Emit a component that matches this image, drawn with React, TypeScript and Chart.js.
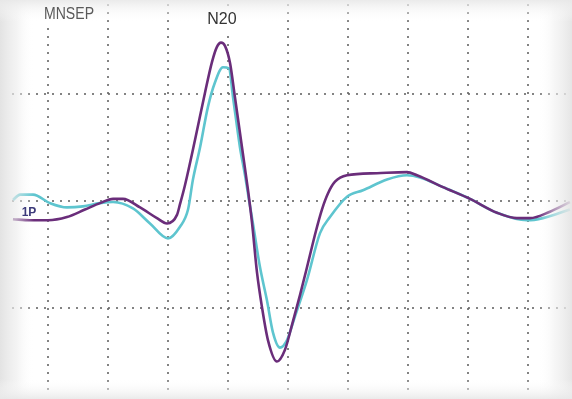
import React, { useEffect, useRef } from "react";
import { Chart, registerables } from "chart.js";

Chart.register(...registerables);

// Time (ms, 5 ms / division) and amplitude (divisions)
const purpleTime = [-2.92, -1.5, 0, 1.58, 3.08, 4.33, 5.42, 6.25, 7.67, 9.08, 9.92, 10.75, 11.0, 11.42, 12.25, 13.08, 13.67, 14.08, 14.42, 14.75, 15.17, 15.58, 16.17, 16.67, 17.0, 17.42, 17.83, 18.33, 19.08, 19.75, 20.33, 21.0, 21.67, 22.33, 22.83, 23.33, 23.92, 24.92, 27.42, 29.92, 30.75, 32.92, 35.17, 37.42, 39.08, 40.17, 41.83, 43.5];
const purpleAmp = [-0.17, -0.18, -0.18, -0.15, -0.08, -0.02, 0.02, 0.02, -0.06, -0.16, -0.21, -0.13, -0.03, 0.15, 0.57, 1.01, 1.3, 1.44, 1.48, 1.45, 1.29, 0.97, 0.5, 0.1, -0.2, -0.67, -0.99, -1.3, -1.5, -1.39, -1.16, -0.88, -0.58, -0.28, -0.08, 0.07, 0.18, 0.24, 0.26, 0.27, 0.24, 0.13, 0.02, -0.11, -0.16, -0.16, -0.1, -0.01];

const cyanTime = [-2.92, -2.33, -1.25, 0.17, 1.58, 2.92, 4.33, 5.42, 7.08, 8.5, 10.0, 11.0, 11.67, 12.08, 12.67, 13.33, 13.92, 14.58, 15.08, 15.42, 16.0, 16.42, 16.75, 17.08, 17.67, 18.25, 18.75, 19.33, 19.92, 20.58, 21.58, 22.67, 23.5, 24.92, 26.25, 28.25, 29.92, 31.0, 32.92, 35.17, 37.42, 39.92, 41.25, 43.5];
const cyanAmp = [0.01, 0.06, 0.06, -0.02, -0.06, -0.05, -0.02, -0.01, -0.07, -0.21, -0.35, -0.24, -0.08, 0.2, 0.5, 0.88, 1.11, 1.25, 1.24, 0.97, 0.5, 0.24, 0.01, -0.21, -0.62, -0.93, -1.23, -1.37, -1.3, -1.08, -0.74, -0.3, -0.15, 0.04, 0.1, 0.2, 0.24, 0.22, 0.13, 0.02, -0.11, -0.18, -0.16, -0.08];

const xGridTicks = [0, 5, 10, 15, 20, 25, 30, 35, 40];
const yGridTicks = [-1, 0, 1];

const titleLabel = "MNSEP";
const peakLabel = "N20";
const traceLabel = "1P";

const toXY = (xs: number[], ys: number[]) => xs.map((x, i) => ({ x, y: ys[i] }));

const decorPlugin = {
  id: "decor",
  beforeDraw(chart: any) {
    const { ctx, width, height } = chart;
    ctx.save();
    ctx.fillStyle = "#ffffff";
    ctx.fillRect(0, 0, width, height);
    ctx.restore();
  },
  afterDatasetsDraw(chart: any) {
    const { ctx } = chart;
    const xs = chart.scales.x;
    ctx.save();
    ctx.fillStyle = "#ffffff";
    ctx.fillRect(40, 0, 58, 27);
    const nx = xs.getPixelForValue(14.5);
    ctx.fillRect(nx - 18, 8, 36, 22);
    ctx.restore();
  },
  afterDraw(chart: any) {
    const { ctx, width, height } = chart;
    const xs = chart.scales.x;
    const ys = chart.scales.y;
    ctx.save();
    let g = ctx.createLinearGradient(0, 0, 34, 0);
    g.addColorStop(0, "rgba(226,226,226,0.97)");
    g.addColorStop(0.5, "rgba(236,236,236,0.6)");
    g.addColorStop(1, "rgba(255,255,255,0)");
    ctx.fillStyle = g;
    ctx.fillRect(0, 0, 34, height);
    g = ctx.createLinearGradient(width, 0, width - 34, 0);
    g.addColorStop(0, "rgba(228,228,228,0.95)");
    g.addColorStop(0.5, "rgba(238,238,238,0.55)");
    g.addColorStop(1, "rgba(255,255,255,0)");
    ctx.fillStyle = g;
    ctx.fillRect(width - 34, 0, 34, height);
    g = ctx.createLinearGradient(0, 0, 0, 22);
    g.addColorStop(0, "rgba(232,232,232,0.9)");
    g.addColorStop(1, "rgba(255,255,255,0)");
    ctx.fillStyle = g;
    ctx.fillRect(0, 0, width, 22);
    g = ctx.createLinearGradient(0, height, 0, height - 20);
    g.addColorStop(0, "rgba(232,232,232,0.9)");
    g.addColorStop(1, "rgba(255,255,255,0)");
    ctx.fillStyle = g;
    ctx.fillRect(0, height - 20, width, 20);

    // labels
    ctx.textBaseline = "middle";
    ctx.textAlign = "center";
    ctx.font = "16px 'Liberation Sans', Arial, sans-serif";
    ctx.save();
    ctx.translate(69, 15);
    ctx.scale(0.88, 1);
    ctx.fillStyle = "#5a5a5a";
    ctx.fillText(titleLabel, 0, 0);
    ctx.restore();
    const nx = xs.getPixelForValue(14.5);
    ctx.fillStyle = "#333333";
    ctx.fillText(peakLabel, nx, 20);
    ctx.font = "bold 12px 'Liberation Sans', Arial, sans-serif";
    ctx.fillStyle = "#3c3a7a";
    ctx.fillText(traceLabel, 29, ys.getPixelForValue(-0.11));
    ctx.restore();
  },
};

export default function App() {
  const ref = useRef<HTMLCanvasElement | null>(null);
  useEffect(() => {
    if (!ref.current) return;
    const chart = new Chart(ref.current, {
      type: "line",
      data: {
        datasets: [
          {
            label: "purple",
            data: toXY(purpleTime, purpleAmp),
            borderColor: "#6a2d7a",
            borderWidth: 2.6,
            pointRadius: 0,
            cubicInterpolationMode: "monotone",
            fill: false,
          },
          {
            label: "cyan",
            data: toXY(cyanTime, cyanAmp),
            borderColor: "#5ec5cf",
            borderWidth: 2.6,
            pointRadius: 0,
            cubicInterpolationMode: "monotone",
            fill: false,
          },
        ],
      },
      options: {
        animation: false,
        responsive: false,
        maintainAspectRatio: false,
        layout: { padding: { left: 12, right: 0, top: 4, bottom: 4 } },
        plugins: { legend: { display: false }, tooltip: { enabled: false }, title: { display: false } },
        scales: {
          x: {
            type: "linear",
            min: -3,
            max: 43.67,
            afterBuildTicks: (s: any) => {
              s.ticks = xGridTicks.map((v) => ({ value: v }));
            },
            ticks: { display: false },
            grid: { color: "rgba(100,100,100,0.8)", lineWidth: 2, drawTicks: false },
            border: { display: false, dash: [2, 6] },
          },
          y: {
            type: "linear",
            min: -1.813,
            max: 1.841,
            afterBuildTicks: (s: any) => {
              s.ticks = yGridTicks.map((v) => ({ value: v }));
            },
            ticks: { display: false },
            grid: { color: "rgba(100,100,100,0.8)", lineWidth: 2, drawTicks: false },
            border: { display: false, dash: [2, 6] },
          },
        },
      },
      plugins: [decorPlugin],
    });
    return () => chart.destroy();
  }, []);
  return (
    <div style={{ position: "absolute", left: 0, top: 0, width: 572, height: 399 }}>
      <canvas ref={ref} width={572} height={399} style={{ display: "block" }} />
    </div>
  );
}
